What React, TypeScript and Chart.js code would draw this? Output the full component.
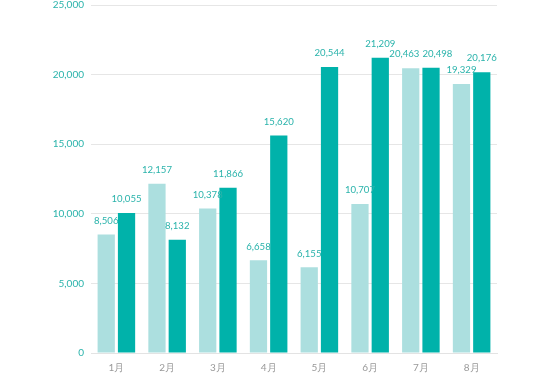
import React, { useEffect, useRef } from "react";
import { Chart, registerables } from "chart.js";

Chart.register(...registerables);

const categories = ["1月", "2月", "3月", "4月", "5月", "6月", "7月", "8月"];
const seriesLight = [8506, 12157, 10378, 6658, 6155, 10707, 20463, 19329];
const seriesDark = [10055, 8132, 11866, 15620, 20544, 21209, 20498, 20176];
const yTicks = [0, 5000, 10000, 15000, 20000, 25000];

const TEAL_TEXT = "#2ab3ab";
const FONT = "Lato, 'Open Sans', sans-serif";

const valueLabels = {
  id: "valueLabels",
  afterDatasetsDraw(chart: any) {
    const ctx = chart.ctx;
    ctx.save();
    ctx.font = `9.6px ${FONT}`;
    ctx.fillStyle = TEAL_TEXT;
    ctx.textAlign = "center";
    ctx.textBaseline = "bottom";
    const m0 = chart.getDatasetMeta(0);
    const m1 = chart.getDatasetMeta(1);
    const d0 = chart.data.datasets[0].data as number[];
    const d1 = chart.data.datasets[1].data as number[];
    const offset = 9;
    for (let i = 0; i < d0.length; i++) {
      const e0 = m0.data[i];
      const e1 = m1.data[i];
      const t0 = d0[i].toLocaleString("en-US");
      const t1 = d1[i].toLocaleString("en-US");
      let x0 = e0.x;
      let x1 = e1.x;
      const y0 = e0.y - offset;
      const y1 = e1.y - offset;
      const w0 = ctx.measureText(t0).width;
      const w1 = ctx.measureText(t1).width;
      const need = (w0 + w1) / 2 + 3;
      if (Math.abs(y0 - y1) < 11 && x1 - x0 < need) {
        const push = (need - (x1 - x0)) / 2;
        x0 -= push;
        x1 += push;
      }
      ctx.fillText(t0, x0, y0);
      ctx.fillText(t1, x1, y1);
    }
    ctx.restore();
  },
};

export default function App() {
  const ref = useRef<HTMLCanvasElement>(null);
  useEffect(() => {
    if (!ref.current) return;
    const chart = new Chart(ref.current, {
      type: "bar",
      data: {
        labels: categories,
        datasets: [
          {
            data: seriesLight,
            backgroundColor: "#acdfdf",
            categoryPercentage: 0.8,
            barPercentage: 0.85,
          },
          {
            data: seriesDark,
            backgroundColor: "#00b2aa",
            categoryPercentage: 0.8,
            barPercentage: 0.85,
          },
        ],
      },
      options: {
        animation: false,
        responsive: true,
        maintainAspectRatio: false,
        layout: { autoPadding: false, padding: { top: 5, right: 53, left: 0, bottom: 0 } },
        plugins: {
          legend: { display: false },
          tooltip: { enabled: false },
        },
        scales: {
          x: {
            grid: { display: false, drawTicks: false },
            border: { color: "#e3e3e3" },
            ticks: {
              color: "#999999",
              font: { family: FONT, size: 10 },
              padding: 9,
            },
            afterFit(scale: any) {
              scale.height = 25;
            },
          },
          y: {
            min: 0,
            max: 25000,
            afterBuildTicks(scale: any) {
              scale.ticks = yTicks.map((v) => ({ value: v }));
            },
            grid: { color: "#e6e6e6", drawTicks: false },
            border: { display: false },
            ticks: {
              color: TEAL_TEXT,
              font: { family: FONT, size: 10 },
              padding: 7,
              callback: (v: any) => Number(v).toLocaleString("en-US"),
            },
            afterFit(scale: any) {
              scale.width = 91;
              scale.paddingTop = 0;
              scale.paddingBottom = 0;
            },
          },
        },
      },
      plugins: [valueLabels],
    });
    return () => chart.destroy();
  }, []);
  return (
    <div style={{ position: "fixed", left: 0, top: 0, width: 550, height: 378, background: "#fff" }}>
      <canvas ref={ref} />
    </div>
  );
}
